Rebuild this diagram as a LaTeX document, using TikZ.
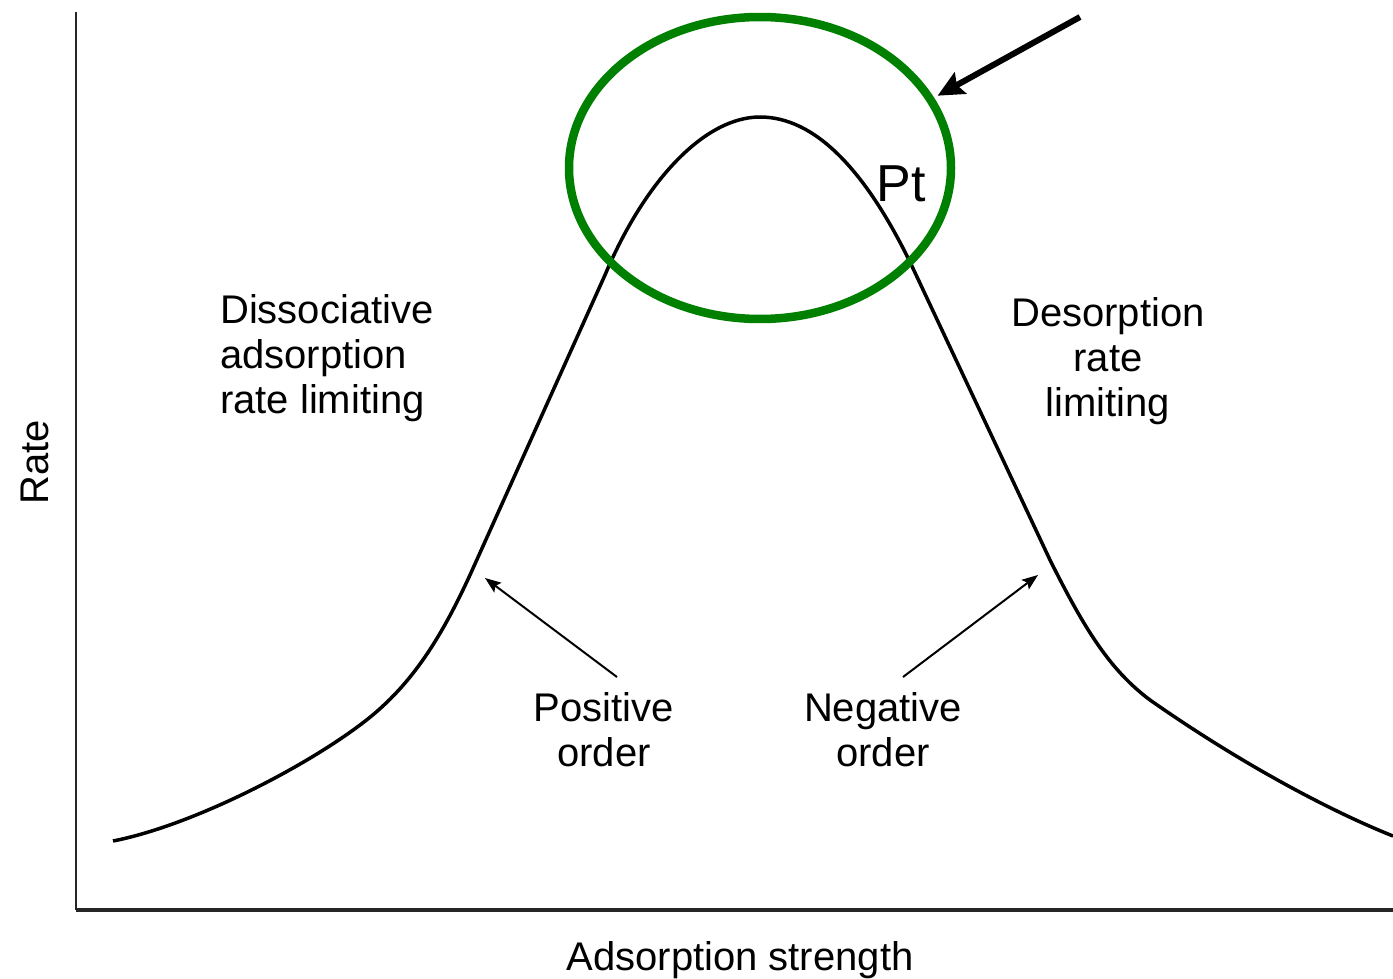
\documentclass[tikz,border=0pt]{standalone}
\usepackage{fontspec}
\setmainfont{Liberation Sans}
\usepackage{tikz}
\usetikzlibrary{shapes.geometric,arrows.meta}
\definecolor{ringgreen}{RGB}{0,128,0}
\tikzstyle{lbl}=[inner sep=0pt,font=\fontsize{40}{45}\selectfont]
\tikzstyle{ptr}=[-{Stealth[length=16pt,width=12pt,inset=3pt]},line width=2pt]
\tikzstyle{bigptr}=[-{Stealth[length=26pt,width=24pt,inset=4pt]},line width=6pt,shorten >=4pt]
\tikzstyle{ring}=[shape=ellipse,draw=ringgreen,line width=8.5pt,minimum width=382pt,minimum height=302pt,inner sep=0pt]
\tikzstyle{rateline}=[line width=3.5pt,line join=round]

\begin{document}
\begin{tikzpicture}[x=1pt,y=-1pt]
        \useasboundingbox (0,0) rectangle (1393,979);
        % axes
        \coordinate (top) at (76,12);
        \coordinate (O) at (76,910);
        \coordinate (right) at (1393,910);
        \draw[line width=2.5pt,black!85] (top) -- (O);
        \draw[line width=4pt,black!85] (O) -- (right);
        % volcano curve
        \draw[rateline] (113,841)
            .. controls (190,826) and (300,770) .. (360,725)
            .. controls (410,688) and (440,640) .. (470,575)
            -- (605,275)
            .. controls (645,180) and (705,117) .. (760,117)
            .. controls (815,117) and (865,170) .. (910,262)
            -- (1050,560)
            .. controls (1085,630) and (1110,670) .. (1150,700)
            .. controls (1250,770) and (1340,815) .. (1393,836);
        \node[ring] (R) at (760,168) {};
        \node[lbl,font=\fontsize{52}{60}\selectfont] (Pt) at (901,184) {Pt};
        \coordinate (bigTail) at (1080,17);
        \draw[bigptr] (bigTail) -- (R.22);
        % labels
        \node[lbl,anchor=west,align=left] (diss) at (220,358)
            {Dissociative\\adsorption\\rate limiting};
        \node[lbl,align=center] (des) at (1108,361)
            {Desorption\\rate\\limiting};
        \node[lbl,align=center] (pos) at (604,730) {Positive\\order};
        \node[lbl,align=center] (neg) at (883,730) {Negative\\order};
        \node[lbl] (xlab) at (740,960) {Adsorption strength};
        \node[lbl,rotate=90] (ylab) at (35,462) {Rate};
        % order arrows
        \coordinate (posTail) at (617,677);
        \coordinate (posTip) at (485,578);
        \coordinate (negTail) at (903,677);
        \coordinate (negTip) at (1038,575);
        \draw[ptr] (posTail) -- (posTip);
        \draw[ptr] (negTail) -- (negTip);
\end{tikzpicture}
\end{document}
